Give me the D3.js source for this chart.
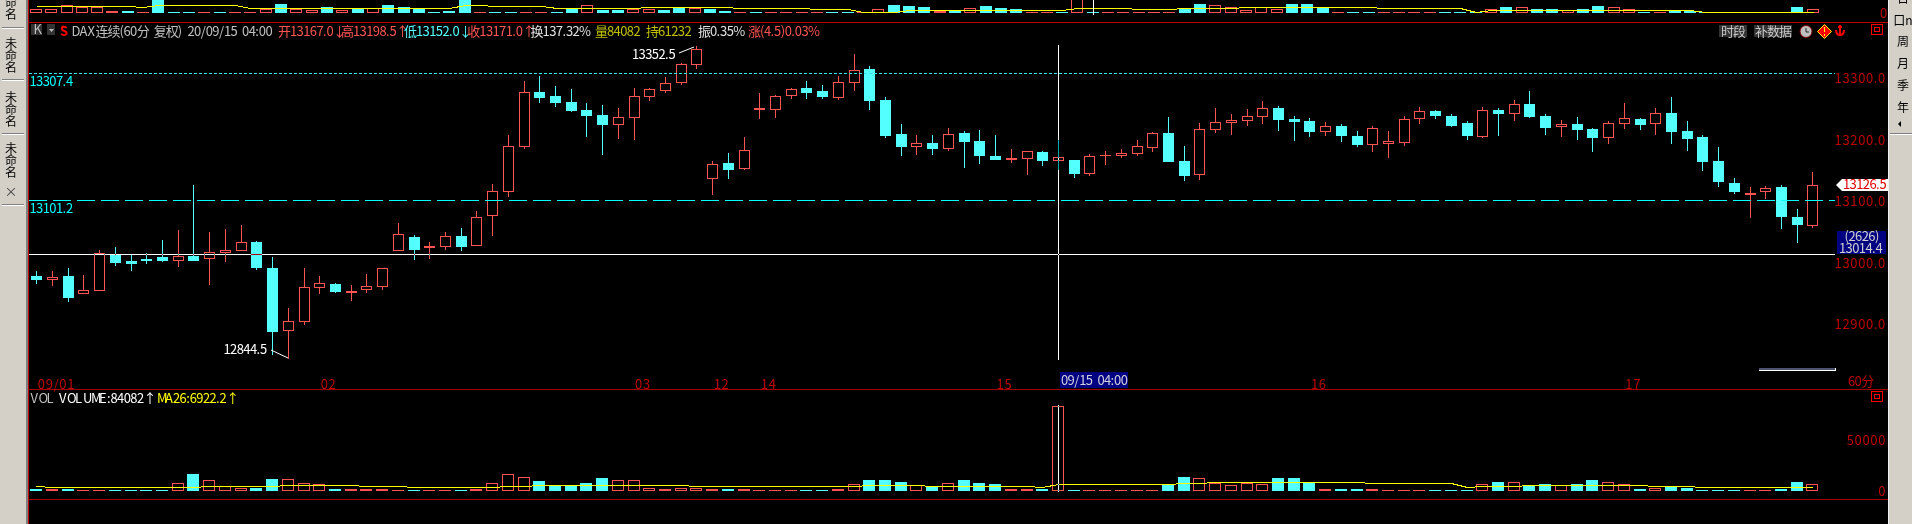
<!DOCTYPE html>
<html>
<head>
<meta charset="utf-8">
<title>DAX连续(60分 复权)</title>
<script src="https://cdn.jsdelivr.net/npm/d3@7/dist/d3.min.js"></script>
<style>
html, body { margin: 0; padding: 0; background: #000; overflow: hidden; }
svg { display: block; }
text { font-family: 'Liberation Sans Narrow', 'Noto Sans CJK SC', 'Liberation Mono', monospace; font-size: 13px; }
.cjk { font-family: 'Noto Sans CJK SC', sans-serif; font-size: 12px; }
</style>
</head>
<body>
<svg width="1912" height="524"></svg>
<script>
const opens = [12978.3,12973.4,12978.3,12950.7,12956.1,13012.4,13002.7,13005.9,13009.1,13004.8,13010.8,13007,13017.3,13021.1,13033.5,12991.3,12891.2,12905.8,12961,12965.3,12952.9,12957.7,12962.6,13021.1,13041.6,13025.9,13027.5,13043.2,13029.2,13077.9,13116.8,13189.9,13277,13270.5,13260.8,13247.8,13239.7,13225.6,13235.9,13271.1,13280.8,13293.8,13323,13137.9,13161.8,13154.2,13250,13250,13272.7,13283.5,13278.7,13268.9,13293.8,13314.4,13264,13208.8,13189.4,13194.2,13186.1,13210.5,13197.5,13173.1,13168.8,13169.9,13179.6,13167,13166.6,13146.1,13174.2,13174.7,13178,13188.3,13210.5,13165,13144.4,13217.5,13228.9,13232.1,13238.6,13251.1,13233.2,13229.9,13214.2,13221.8,13205.6,13192.1,13193.7,13196.4,13235.4,13246.2,13238.1,13226.7,13206.1,13247.8,13243.5,13257.5,13238.1,13222.4,13225.1,13217,13204.5,13227.2,13233.2,13227.2,13242.9,13213.7,13204,13165,13129.3,13112,13116.8,13122.8,13074.1,13061.1];
const highs = [12986.4,12986.4,12991.3,12979.9,13020.5,13025.4,13012.4,13015.6,13036.7,13053,13126,13049.7,13054.6,13061.1,13035.1,13009.1,12926.3,12991.3,12978.3,12966.4,12963.7,12981.5,12991.3,13064.4,13044.9,13033.5,13049.7,13056.2,13083.8,13127.7,13207.2,13294.9,13303,13286.8,13281.9,13259.2,13255.9,13251.1,13283.5,13283.5,13301.4,13324.1,13352.5,13164.5,13177.4,13204,13275.4,13272.2,13283.5,13294.9,13288.4,13303,13338.7,13319.2,13268.9,13225.1,13207.2,13207.2,13218.6,13213.7,13215.3,13207.2,13184.5,13181.2,13181.2,13198.5,13166.6,13176.4,13181.2,13184.5,13199.1,13212.1,13236.4,13189.4,13226.7,13251.1,13241.3,13249.4,13262.4,13254.3,13238.1,13234.8,13228.3,13225.1,13213.7,13221.8,13213.7,13238.1,13252.7,13247.8,13241.3,13229.9,13252.7,13251.1,13264,13278.7,13241.3,13231.6,13236.4,13218.6,13229.9,13259.2,13234.8,13251.1,13268.9,13229.9,13207.2,13187.7,13137.4,13122.8,13124.4,13126,13087.1,13147.1];
const lows = [12967.5,12963.7,12938.2,12950.7,12956.1,12996.2,12988,12999.9,13002.7,12994.5,13004.3,12965.3,13002.7,13020.5,12989.7,12851.7,12844.5,12900.4,12950.7,12952.3,12939.3,12952.3,12957.2,13020.5,13005.9,13007.5,13022.1,13020.5,13029.2,13044.9,13108.2,13186.1,13260.8,13254.3,13246.2,13205.6,13176.4,13202.3,13200.7,13264,13277,13290,13316,13111.4,13137.4,13152.6,13234.8,13236.4,13267.3,13267.3,13267.3,13265.7,13280.3,13249.4,13204,13174.7,13176.4,13176.4,13182.9,13155.3,13161.8,13168.2,13163.4,13143.9,13158.5,13152,13139.6,13142.8,13160.1,13171.5,13174.7,13181.2,13165,13134.2,13136.3,13212.1,13208.8,13223.4,13226.7,13215.3,13199.1,13205.6,13207.2,13197.5,13189.4,13181.2,13171.5,13191,13226.7,13234.8,13221.8,13200.7,13204,13207.2,13231.6,13236.4,13208.8,13205.6,13200.7,13181.2,13194.2,13218.6,13217,13208.8,13194.2,13182.9,13150.4,13124.4,13113,13074.1,13104.9,13056.2,13033.5,13057.8];
const closes = [12973.4,12976.7,12944.2,12955.6,13015.6,13001,12999.4,13004.3,13004.3,13010.2,13004.3,13016.7,13020.5,13033,12992.9,12889,12904.7,12959.9,12966.4,12953.9,12953.4,12961.5,12990.7,13045.9,13022.1,13026.5,13042.7,13027,13073.5,13115.8,13188.8,13276.5,13268.9,13260.8,13247.8,13239.7,13225.1,13235.9,13270,13281.4,13291.1,13322.5,13346.3,13159.6,13152,13182.3,13250.5,13270,13281.4,13277,13270.5,13292.7,13312.2,13264,13207.2,13189.4,13193.7,13186.1,13208.3,13197.5,13174.7,13168.2,13169.3,13180.7,13166.6,13171,13145.5,13172.6,13174.7,13178,13188.8,13209.9,13165,13142.3,13217,13227.8,13231,13237.5,13250.5,13233.2,13229.9,13213.7,13221.3,13207.2,13192.6,13218,13196.9,13232.7,13245.6,13239.7,13223.4,13207.2,13247.3,13242.9,13257,13238.1,13220.2,13225.1,13217,13204,13226.2,13234.3,13225.1,13242.4,13213.7,13202.3,13165,13132.5,13116.3,13112.5,13121.2,13075.7,13062.7,13126.5];
const volumes = [1980,1980,1980,990,990,990,990,990,990,7590,16830,10560,4620,2640,2970,11880,11550,7590,6600,1980,1980,1980,1980,990,990,990,990,990,1980,7590,16500,13530,9900,5940,5940,7920,12870,10560,10560,2640,1980,2640,2640,1980,1980,1980,990,990,990,990,990,1980,6600,10890,10890,8910,5610,4620,7590,10890,7920,6930,1980,1980,1980,84082,990,990,990,990,990,990,6930,13860,12540,7920,5610,7920,6600,12870,12870,7920,1980,1980,1980,1980,990,990,990,990,990,990,6600,8910,8910,5610,6930,5610,6930,10890,8910,6600,1980,2640,4620,2970,990,990,990,990,990,1980,8910,6600];
const ma26 = [4620,3630,3630,3630,3630,3630,3630,3630,3630,3630,3630,4620,4620,4620,4620,4620,5610,5610,5610,5610,5610,4620,4620,4620,3630,3630,3630,3630,3630,3630,4620,4620,5610,5610,5610,5610,5610,5610,5610,5610,5610,5610,4620,4620,4620,4620,4620,4620,4620,4620,4620,4620,4620,5610,5610,5610,5610,4620,4620,4620,4620,4620,4620,4620,3630,6922,6600,6600,6600,6600,6600,6600,6600,7590,7590,8580,8580,8580,8580,8580,8580,8580,8580,8580,8580,7590,7590,7590,7590,7590,7590,3630,4620,4620,4620,5610,5610,5610,5610,5610,5610,5610,5610,4620,4620,4620,3630,3630,3630,3630,3630,3630,3630,3630];

// the part of the other chart that is scrolled off at the very top
const topVolumes = [3630,3630,7920,5610,5940,1980,1980,660,14000,660,660,660,660,660,660,3630,8910,3630,2640,5610,2640,3960,4950,7920,5610,3960,660,1980,14000,660,660,660,660,660,660,3960,7920,2970,2970,3630,3630,2970,5610,4620,3960,1980,660,660,660,660,660,660,660,660,660,3630,7920,6930,5940,1980,2640,4620,6930,4950,3960,660,660,660,14000,660,660,660,660,660,660,3960,8910,7920,5610,2640,5610,3630,8910,8910,4950,660,660,660,660,660,660,660,660,660,660,3630,5940,5610,3960,3960,2970,3960,6930,5610,3630,660,660,2640,1980,660,660,660,660,660,990,5940,3630];
const topRising = [1,1,1,1,1,1,0,1,0,0,0,1,0,1,1,1,0,1,1,0,1,0,1,0,0,0,0,0,0,1,0,0,1,1,0,0,1,0,0,1,1,0,0,1,0,0,1,0,1,1,1,1,0,0,1,1,0,0,0,1,0,1,0,0,0,1,1,0,1,0,1,1,1,1,1,0,0,1,1,1,1,1,0,0,0,1,0,0,1,1,1,1,0,0,0,1,0,1,0,0,1,0,0,1,1,0,1,0,0,0,0,0,1,1,0,0,1];
const topMa = [6600,6600,6600,6600,6600,6600,6600,5940,7590,7590,7590,7590,7590,7590,4950,4950,4950,4950,4950,4950,4950,4950,4950,4950,4950,4950,4950,4950,7590,7590,6600,6600,6600,6600,4620,4620,4620,4620,4620,4620,5610,5610,5610,5610,5610,5610,4620,4620,4620,4620,4620,3630,3630,3630,1320,1320,1320,2640,2640,2640,2640,2640,2640,2640,2640,2640,2640,2640,4620,4620,4620,4620,3630,3630,3630,4620,4620,4620,4620,5610,5610,5610,5610,5610,5610,5610,5610,5610,4620,4620,4620,4620,4620,4620,1320,2640,2640,2640,2640,2640,2640,2640,2640,2640,2640,2640,2640,2640,2640,1320,1320,1320,1320,1320,1320,1320,1320];

const priceTicks = [13300, 13200, 13100, 13000, 12900];
const volumeTicks = [50000, 0];
const dateTicks = [0, 18, 38, 43, 46, 61, 81, 101];
const dateLabels = ['09/01', '02', '03', '12', '14', '15', '16', '17'];
const tabNames = ['未命名', '未命名', '未命名', '未命名'];
const sideButtons = ['周', '月', '季', '年'];

const redColor = '#ff5454';
const cyanColor = '#54ffff';
const axisRed = '#c00000';
const panelGray = '#d4d0c8';

const svg = d3.select('svg');

const xScale = d3.scaleLinear().domain([0, opens.length - 1]).range([36.3, 1812.4]);
const topX = d3.scaleLinear().domain([0, topVolumes.length - 1]).range([35.9, 1812.7]);
const priceY = d3.scaleLinear().domain([13101.2, 13307.4]).range([200.3, 73.3]);
const volY = d3.scaleLinear().domain([0, 84082]).range([491, 406]);
const topVolY = d3.scaleLinear().domain([0, 50000]).range([13, -37.5]);

const px = v => Math.round(v);

// advance of one character, so the narrow font spaces out like the old bitmap one
const advance = ch => {
    if (ch.charCodeAt(0) > 0x2fff) return 12;
    if (ch === '.' || ch === ':') return 3.5;
    if (ch === '(' || ch === ')') return 4;
    if (ch === '/' || ch === ' ' || ch === '%') return ch === '%' ? 8 : 5;
    if (ch >= 'A' && ch <= 'Z') return 8;
    return 6.6;
};

const label = (g, x, y, str, color) => {
    let pos = x;
    const xs = Array.from(str).map(ch => {
        const at = pos;
        pos += advance(ch);
        return at.toFixed(1);
    });
    return g.append('text')
        .attr('x', xs.join(' '))
        .attr('y', y + 4.5)
        .attr('fill', color)
        .text(str);
};

const box = (g, x, y, w, h, color) => g.append('rect')
    .attr('x', x).attr('y', y).attr('width', w).attr('height', h)
    .attr('fill', color)
    .attr('shape-rendering', 'crispEdges');

// up bars are outlined, down bars are solid
const bar = (g, x, top, bottom, w, rising) => {
    const h = Math.max(1, bottom - top);
    box(g, x, top, w, h, rising ? redColor : cyanColor);
    if (rising && h > 2) box(g, x + 1, top + 1, w - 2, h - 2, '#000');
};

// ---- top strip ----
const topG = svg.append('g');
topVolumes.forEach((v, i) => {
    const cx = px(topX(i));
    const top = px(topVolY(v));
    bar(topG, cx - 6, top, 13, 12, topRising[i] === 1);
});
const maLine = (x, y) => d3.line()
    .x((d, i) => px(x(i)) + 0.5)
    .y(d => px(y(d)) + 0.5);
topG.append('path')
    .attr('d', maLine(topX, topVolY)(topMa))
    .attr('fill', 'none')
    .attr('stroke', '#ffff00')
    .attr('shape-rendering', 'crispEdges');
box(topG, px(topX(69)), 0, 1, 15, '#fff');

// ---- candles ----
const candleG = svg.append('g');
opens.forEach((o, i) => {
    const c = closes[i];
    const rising = c >= o;
    const cx = px(xScale(i));
    const color = rising ? redColor : cyanColor;
    box(candleG, cx, px(priceY(highs[i])), 1, px(priceY(lows[i])) - px(priceY(highs[i])) + 1, color);
    const top = px(priceY(Math.max(o, c)));
    const bottom = px(priceY(Math.min(o, c))) + 1;
    bar(candleG, cx - 5, top, bottom, 11, rising);
});

// ---- volume ----
const volG = svg.append('g');
volumes.forEach((v, i) => {
    const cx = px(xScale(i));
    bar(volG, cx - 6, px(volY(v)), 491, 12, closes[i] >= opens[i]);
});
volG.append('path')
    .attr('d', maLine(xScale, volY)(ma26))
    .attr('fill', 'none')
    .attr('stroke', '#ffff00')
    .attr('shape-rendering', 'crispEdges');

// ---- reference lines ----
const lineG = svg.append('g').attr('shape-rendering', 'crispEdges');
lineG.append('line')
    .attr('x1', 29).attr('x2', 1835)
    .attr('y1', px(priceY(13307.4)) + 0.5).attr('y2', px(priceY(13307.4)) + 0.5)
    .attr('stroke', '#30e8e8')
    .attr('stroke-dasharray', '3 2');
lineG.append('line')
    .attr('x1', 29).attr('x2', 1835)
    .attr('y1', px(priceY(13101.2)) + 0.5).attr('y2', px(priceY(13101.2)) + 0.5)
    .attr('stroke', '#00ffff')
    .attr('stroke-dasharray', '18 6');
label(svg, 29.5, 81.5, '13307.4', '#00ffff');
label(svg, 29.5, 208, '13101.2', '#00ffff');

// ---- frame ----
const frameG = svg.append('g');
box(frameG, 29, 22, 1859, 1, '#c00000');
box(frameG, 29, 389, 1859, 1, '#a00000');
box(frameG, 29, 499, 1859, 1, '#a00000');

// ---- axes ----
const styleAxis = (g, color) => {
    g.select('.domain').remove();
    g.selectAll('line').remove();
    g.selectAll('text')
        .attr('fill', color)
        .attr('font-family', null)
        .attr('font-size', null)
        .style('letter-spacing', '0.65px');
};
const priceAxis = d3.axisRight(priceY)
    .tickValues(priceTicks)
    .tickSize(0)
    .tickFormat(d3.format('.1f'));
svg.append('g').attr('transform', 'translate(1886, 0.5)').call(priceAxis).call(styleAxis, axisRed)
    .selectAll('text').attr('x', 0).attr('text-anchor', 'end');
const volAxis = d3.axisRight(volY).tickValues(volumeTicks).tickSize(0);
volAxis.tickFormat(d3.format('d'));
svg.append('g').attr('transform', 'translate(1886, 0)').call(volAxis).call(styleAxis, axisRed)
    .selectAll('text').attr('x', 0).attr('text-anchor', 'end');
label(svg, 1880, 13.5, '0', axisRed);
const dateAxis = d3.axisBottom(xScale)
    .tickValues(dateTicks)
    .tickSize(0)
    .tickFormat(i => dateLabels[dateTicks.indexOf(i)]);
svg.append('g').attr('transform', 'translate(1, 0)').call(dateAxis).call(styleAxis, axisRed)
    .selectAll('text').attr('y', 389).attr('dy', 0).attr('text-anchor', 'start');
label(svg, 1848, 381.5, '60分', axisRed);

// ---- crosshair, xor-ed over the marks like the original ----
const crossG = svg.append('g')
    .attr('shape-rendering', 'crispEdges')
    .style('mix-blend-mode', 'difference');
const crossX = px(xScale(65));
crossG.append('rect').attr('x', crossX).attr('y', 45).attr('width', 1).attr('height', 315).attr('fill', '#fff');
crossG.append('rect').attr('x', crossX).attr('y', 405).attr('width', 1).attr('height', 87).attr('fill', '#fff');
const crossG2 = svg.append('g')
    .attr('shape-rendering', 'crispEdges')
    .style('mix-blend-mode', 'difference');
crossG2.append('rect').attr('x', 29).attr('y', px(priceY(13014.4))).attr('width', 1806).attr('height', 1).attr('fill', '#fff');

// ---- high / low notes ----
const noteG = svg.append('g');
label(noteG, 632, 54.5, '13352.5', '#fff');
noteG.append('line')
    .attr('x1', 679).attr('y1', 53)
    .attr('x2', px(xScale(42)) - 2).attr('y2', px(priceY(13352.5)) + 1)
    .attr('stroke', '#fff');
label(noteG, 223.5, 349.5, '12844.5', '#fff');
noteG.append('line')
    .attr('x1', 271).attr('y1', 350)
    .attr('x2', px(xScale(16))).attr('y2', px(priceY(12844.5)))
    .attr('stroke', '#fff');

// ---- tags on the axes ----
const tagG = svg.append('g');
tagG.append('path')
    .attr('d', `M1836,${px(priceY(13126.5))} l6,-6 h46 v12 h-46 z`)
    .attr('fill', '#fff');
label(tagG, 1843, 184, '13126.5', '#e00000');
box(tagG, 1837, 231, 49, 23, '#000080');
label(tagG, 1844.5, 236.5, '(2626)', '#d0d0d0');
label(tagG, 1839, 248.5, '13014.4', '#d0d0d0');
box(tagG, 1060, 372, 68, 16, '#000080');
label(tagG, 1061, 380, '09/15 04:00', '#d0d0e0');
box(tagG, 1759, 368, 77, 2, '#505070');
box(tagG, 1759, 370, 77, 1, '#fff');
box(tagG, 1835, 368, 1, 3, '#fff');

// ---- header ----
const headG = svg.append('g');
box(headG, 31, 24, 11, 11, '#333');
label(headG, 33.5, 29, 'K', '#c0c0c0');
box(headG, 47, 24, 8, 11, '#333');
headG.append('path').attr('d', 'M49,29 h5 l-2.5,3 z').attr('fill', '#bbb');
headG.append('path').attr('d', 'M63,25 l2.5,3 h-5 z').attr('fill', '#ff0000');
headG.append('text').attr('x', 60).attr('y', 36).attr('fill', '#ff0000').attr('font-weight', 'bold').text('S');
label(headG, 71.5, 31.5, 'DAX连续(60分 复权)', '#c0c0c0');
label(headG, 187.5, 31.5, '20/09/15 04:00', '#c0c0c0');
label(headG, 278, 31.5, '开13167.0↓', redColor);
label(headG, 341, 31.5, '高13198.5↑', redColor);
label(headG, 404, 31.5, '低13152.0↓', cyanColor);
label(headG, 467.3, 31.5, '收13171.0↑', redColor);
label(headG, 530.6, 31.5, '换137.32%', '#e0e0e0');
label(headG, 595, 31.5, '量84082', '#c0c000');
label(headG, 646, 31.5, '持61232', '#c0c000');
label(headG, 698, 31.5, '振0.35%', '#e0e0e0');
label(headG, 748, 31.5, '涨(4.5)0.03%', redColor);

box(headG, 1719, 25, 28, 12, '#333');
label(headG, 1721, 31, '时段', '#c8c8c8');
box(headG, 1754, 25, 38, 12, '#333');
label(headG, 1755, 31, '补数据', '#c8c8c8');
headG.append('circle').attr('cx', 1806).attr('cy', 31.5).attr('r', 6).attr('fill', '#c0c0c0').attr('stroke', '#800000');
headG.append('path').attr('d', 'M1806,28 v4 h3').attr('fill', 'none').attr('stroke', '#222');
headG.append('path').attr('d', 'M1824.5,24.5 l7,7 l-7,7 l-7,-7 z').attr('fill', '#ff0000').attr('stroke', '#ffff00');
box(headG, 1824, 27, 1, 5, '#ffff00');
box(headG, 1824, 34, 1, 2, '#ffff00');
headG.append('path').attr('d', 'M1840,25 v10 M1836,30 q0,5 4,5 q4,0 4,-5 M1838,27 h4').attr('fill', 'none').attr('stroke', '#ff0000').attr('stroke-width', 2);

const squareIcon = (g, y) => {
    g.append('rect').attr('x', 1871.5).attr('y', y + 0.5).attr('width', 11).attr('height', 10).attr('fill', 'none').attr('stroke', '#ff0000').attr('shape-rendering', 'crispEdges');
    g.append('rect').attr('x', 1874.5).attr('y', y + 3.5).attr('width', 5).attr('height', 4).attr('fill', 'none').attr('stroke', '#ff0000').attr('shape-rendering', 'crispEdges');
};
squareIcon(headG, 24);
squareIcon(headG, 391);

label(svg, 30.5, 398, 'VOL', '#c0c0c0');
label(svg, 59, 398, 'VOLUME:84082↑', '#fff');
label(svg, 157, 398, 'MA26:6922.2↑', '#ffff00');

// ---- side panels ----
const sideG = svg.append('g');
box(sideG, 0, 0, 26, 524, panelGray);
box(sideG, 26, 0, 2, 524, '#808080');
box(sideG, 28, 0, 1, 524, '#c00000');
[27, 79, 133, 204].forEach(y => {
    box(sideG, 2, y, 22, 1, '#808080');
    box(sideG, 2, y + 1, 22, 1, '#fff');
});
const tabTops = [-10, 43, 97, 148];
tabNames.forEach((name, t) => {
    Array.from(name).forEach((ch, j) => {
        sideG.append('text')
            .attr('class', 'cjk')
            .attr('x', 11).attr('y', tabTops[t] + j * 12 + 4.5)
            .attr('text-anchor', 'middle')
            .attr('fill', '#000')
            .text(ch);
    });
});
sideG.append('text').attr('x', 11).attr('y', 196).attr('text-anchor', 'middle').attr('fill', '#404040').text('×');

box(sideG, 1888, 0, 1, 524, '#f0f0f0');
box(sideG, 1889, 0, 23, 524, panelGray);
box(sideG, 1890, 133, 22, 1, '#808080');
box(sideG, 1890, 134, 22, 1, '#fff');
sideG.append('text').attr('class', 'cjk').attr('x', 1903).attr('y', 3).attr('text-anchor', 'middle').attr('fill', '#000').text('日');
sideG.append('text').attr('class', 'cjk').attr('x', 1903).attr('y', 25).attr('text-anchor', 'middle').attr('fill', '#000').text('口n');
sideButtons.forEach((ch, i) => {
    sideG.append('text')
        .attr('class', 'cjk')
        .attr('x', 1903).attr('y', 46 + i * 22)
        .attr('text-anchor', 'middle')
        .attr('fill', '#000')
        .text(ch);
});
sideG.append('path').attr('d', 'M1901,121 v6 l-3,-3 z').attr('fill', '#000');
</script>
</body>
</html>
